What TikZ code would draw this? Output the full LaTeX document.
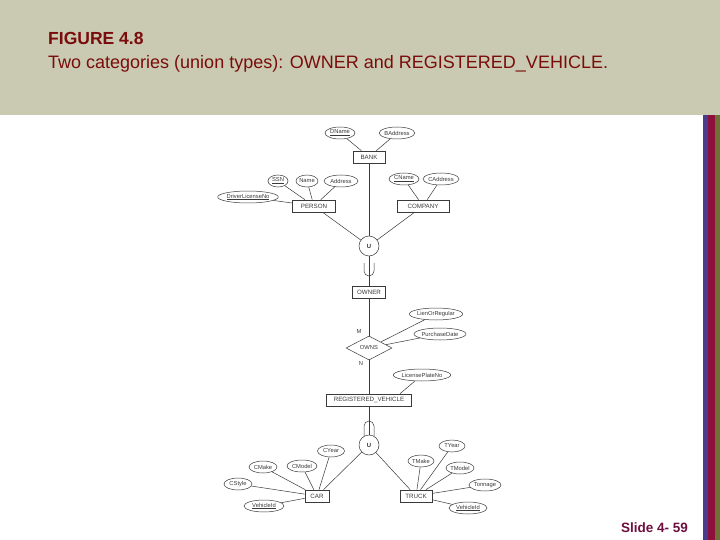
\documentclass[tikz,border=0pt]{standalone}
\usepackage{fontspec}
\setmainfont{Liberation Sans}
\usetikzlibrary{shapes.geometric}
\definecolor{band}{HTML}{C9CAB1}
\definecolor{titlered}{HTML}{7A0C0C}
\definecolor{slidecol}{HTML}{6E0F40}
\definecolor{sblue}{HTML}{4A3C8C}
\definecolor{sred}{HTML}{8C0F3C}
\definecolor{solive}{HTML}{6E7035}
\definecolor{ink}{HTML}{3A3A3A}
\tikzset{
  attr/.style={ellipse, draw=ink, line width=0.5pt, inner sep=0pt, minimum height=12pt, font=\fontsize{5.8}{6}\selectfont, text=ink},
  ent/.style={rectangle, draw=ink, line width=0.6pt, inner sep=0pt, minimum height=12pt, font=\fontsize{6.2}{7}\selectfont, text=ink},
  uni/.style={circle, draw=ink, line width=0.5pt, inner sep=0pt, minimum size=20pt, font=\bfseries\fontsize{6}{7}\selectfont, text=ink},
  rel/.style={diamond, draw=ink, line width=0.5pt, inner sep=0pt, minimum width=46pt, minimum height=24pt, font=\fontsize{5.8}{6}\selectfont, text=ink},
  lbl/.style={font=\fontsize{5.8}{6}\selectfont, text=ink, inner sep=0pt},
  conn/.style={draw=ink, line width=0.5pt}
}
\begin{document}
\begin{tikzpicture}[x=1pt,y=-1pt]
\useasboundingbox (0,0) rectangle (720,540);
\fill[white] (0,0) rectangle (720,540);
\fill[band] (0,0) rectangle (720,115);
\fill[sblue] (703,115) rectangle (708,540);
\fill[sred] (708,115) rectangle (715,540);
\fill[solive] (715,115) rectangle (720,540);
\node[anchor=base west, inner sep=0pt, text=titlered, font=\bfseries\fontsize{17.5}{19}\selectfont] (fig) at (48,45) {FIGURE 4.8};
\node[anchor=base west, inner sep=0pt, text=titlered, font=\fontsize{18}{19}\selectfont] (cap) at (48,69) {Two categories (union types): OWNER and REGISTERED\_VEHICLE.};
\node[anchor=base east, inner sep=0pt, text=slidecol, font=\bfseries\fontsize{13.5}{15}\selectfont] (slide) at (688,532) {Slide 4- 59};

% top part
\node[attr, minimum width=30pt] (dname) at (340,133) {\underline{DName}};
\node[attr, minimum width=33pt] (baddr) at (397,133) {BAddress};
\node[ent, minimum width=32pt] (bank) at (369,157) {BANK};
\node[attr, minimum width=20pt] (ssn) at (278,181) {\underline{SSN}};
\node[attr, minimum width=22pt] (name) at (307,181) {Name};
\node[attr, minimum width=34pt] (addr) at (341,181) {Address};
\node[attr, minimum width=58pt] (dln) at (248,197) {\underline{DriverLicenseNo}};
\node[ent, minimum width=43pt] (person) at (314,206) {PERSON};
\node[attr, minimum width=30pt] (cname) at (404,179) {\underline{CName}};
\node[attr, minimum width=33pt] (caddr) at (441,179) {CAddress};
\node[ent, minimum width=52pt] (company) at (423,206) {COMPANY};
\node[uni] (u1) at (369,246) {U};
\node[ent, minimum width=33pt] (owner) at (369,292) {OWNER};
\node[rel] (owns) at (369,348) {OWNS};
\node[lbl] (m) at (359,332) {M};
\node[lbl] (n) at (361,364) {N};
\node[attr, minimum width=52pt] (lien) at (436,314) {LienOrRegular};
\node[attr, minimum width=50pt] (pdate) at (440,334) {PurchaseDate};
\node[attr, minimum width=54pt] (lpn) at (422,375) {LicensePlateNo};
\node[ent, minimum width=85pt] (rv) at (369,400) {REGISTERED\_VEHICLE};
\node[uni] (u2) at (369,445) {U};

% bottom
\node[ent, minimum width=24pt] (car) at (317,496) {CAR};
\node[attr, minimum width=27pt] (cyear) at (331,451) {CYear};
\node[attr, minimum width=30pt] (cmodel) at (302,466) {CModel};
\node[attr, minimum width=28pt] (cmake) at (263,467) {CMake};
\node[attr, minimum width=28pt] (cstyle) at (238,484) {CStyle};
\node[attr, minimum width=40pt] (vid1) at (264,506) {\underline{VehicleId}};
\node[ent, minimum width=32pt] (truck) at (416,496) {TRUCK};
\node[attr, minimum width=26pt] (tyear) at (452,446) {TYear};
\node[attr, minimum width=26pt] (tmake) at (421,461) {TMake};
\node[attr, minimum width=28pt] (tmodel) at (460,468) {TModel};
\node[attr, minimum width=32pt] (tonn) at (485,485) {Tonnage};
\node[attr, minimum width=38pt] (vid2) at (468,508) {\underline{VehicleId}};

% connectors
\draw[conn] (dname) -- (bank);
\draw[conn] (baddr) -- (bank);
\draw[conn] (bank) -- (u1);
\draw[conn] (ssn) -- (person);
\draw[conn] (name) -- (person);
\draw[conn] (addr) -- (person);
\draw[conn] (dln) -- (person);
\draw[conn] (cname) -- (company);
\draw[conn] (caddr) -- (company);
\draw[conn] (person) -- (u1);
\draw[conn] (company) -- (u1);
\draw[conn] (u1) -- (owner);
\draw[conn] (364,263) -- (364,271) arc[start angle=180, end angle=360, radius=5pt] -- (374,263);
\draw[conn] (owner) -- (owns);
\draw[conn] (owns) -- (rv);
\draw[conn] (lien) -- (owns);
\draw[conn] (pdate) -- (owns);
\draw[conn] (lpn) -- (rv.north -| 400,0);
\draw[conn] (rv) -- (u2);
\draw[conn] (364,436) -- (364,426) arc[start angle=180, end angle=0, radius=5pt] -- (374,436);
\draw[conn] (u2) -- (car);
\draw[conn] (u2) -- (truck);
\draw[conn] (cyear) -- (car);
\draw[conn] (cmodel) -- (car);
\draw[conn] (cmake) -- (car);
\draw[conn] (cstyle) -- (car);
\draw[conn] (vid1) -- (car);
\draw[conn] (tyear) -- (truck);
\draw[conn] (tmake) -- (truck);
\draw[conn] (tmodel) -- (truck);
\draw[conn] (tonn) -- (truck);
\draw[conn] (vid2) -- (truck);
\end{tikzpicture}
\end{document}
